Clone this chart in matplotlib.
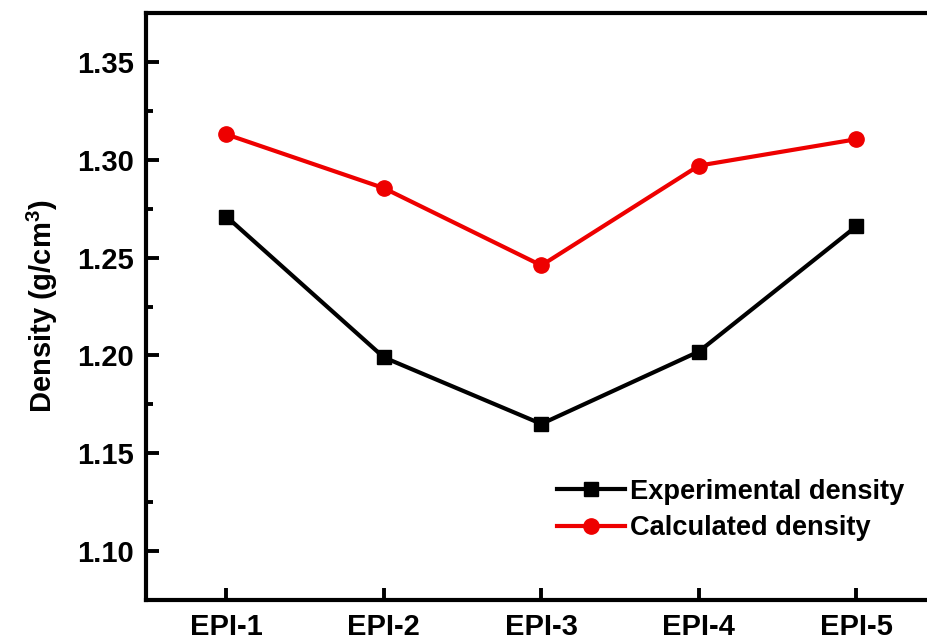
import numpy as np
import matplotlib
matplotlib.use("Agg")
import matplotlib.pyplot as plt
from matplotlib.ticker import MultipleLocator

plt.rcParams['font.family'] = ['Liberation Sans', 'DejaVu Sans']
plt.rcParams['font.weight'] = 'bold'
plt.rcParams['mathtext.fontset'] = 'custom'
plt.rcParams['mathtext.bf'] = 'Liberation Sans:bold'

samples = ['EPI-1', 'EPI-2', 'EPI-3', 'EPI-4', 'EPI-5']
experimental = [1.271, 1.199, 1.165, 1.202, 1.266]
calculated = [1.313, 1.2855, 1.246, 1.297, 1.3105]

x = np.arange(1, len(samples) + 1)

fig = plt.figure(figsize=(9.27, 6.44), dpi=100)
ax = fig.add_axes([0.1575, 0.0683, 0.853, 0.9115])

ax.plot(x, experimental, color='black', lw=3, marker='s', ms=9.5,
        label='Experimental density')
ax.plot(x, calculated, color='#ee0000', lw=3, marker='o', ms=11,
        label='Calculated density')

ax.set_xlim(0.49, 5.51)
ax.set_ylim(1.075, 1.375)
ax.set_xticks(x)
ax.set_xticklabels(samples)
ax.yaxis.set_major_locator(MultipleLocator(0.05))
ax.yaxis.set_minor_locator(MultipleLocator(0.025))
ax.yaxis.set_major_formatter(plt.FormatStrFormatter('%.2f'))

ax.tick_params(axis='both', which='major', direction='in', length=9, width=2.8,
               labelsize=21, pad=9)
ax.tick_params(axis='y', which='minor', direction='in', length=5, width=2.8)
for lab in ax.get_xticklabels() + ax.get_yticklabels():
    lab.set_fontweight('bold')
for s in ax.spines.values():
    s.set_linewidth(3)

ax.set_ylabel('Density (g/cm$^\\mathbf{3}$)', fontsize=21, fontweight='bold', labelpad=12)

leg = ax.legend(loc='lower right', bbox_to_anchor=(0.99, 0.058), frameon=False,
                fontsize=19.6, handlelength=2.5, handletextpad=0.2, labelspacing=0.4)
for t in leg.get_texts():
    t.set_fontweight('bold')

fig.savefig('out.png', dpi=100)
